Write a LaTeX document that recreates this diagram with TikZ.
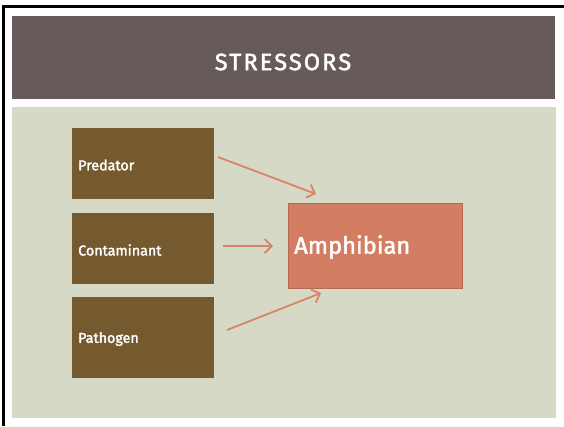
\documentclass[tikz,border=0pt]{standalone}
\usepackage{fontspec}
\setmainfont{Fira Sans}
\newfontfamily\labelfont[FakeBold=2]{Fira Sans}
\newfontfamily\titlefont[FakeBold=2,LetterSpace=9]{Fira Sans}
\usetikzlibrary{arrows.meta}
\definecolor{titlebg}{HTML}{675B59}
\definecolor{panelbg}{HTML}{D6D9C6}
\definecolor{stressor}{HTML}{745A2E}
\definecolor{target}{HTML}{D37E62}
\definecolor{targetedge}{HTML}{B86A50}
\definecolor{link}{HTML}{D88467}
\tikzset{
  stressorbox/.style={fill=stressor, draw=none, minimum width=142pt, minimum height=71pt,
    inner sep=0pt, anchor=north west},
  stressorlabel/.style={text=white, font=\labelfont\fontsize{14.3}{16}\selectfont, anchor=west, inner sep=0pt},
  targetbox/.style={fill=target, draw=targetedge, line width=0.8pt, minimum width=174pt,
    minimum height=85pt, inner sep=0pt, anchor=north west},
  flow/.style={draw=link, line width=1.8pt, -{Straight Barb[length=7pt,width=14pt,line width=1.8pt]}}
}
\begin{document}
\begin{tikzpicture}[x=1pt,y=-1pt]
  \useasboundingbox (0,0) rectangle (564,426);
  \fill[white] (0,0) rectangle (564,426);
  % frame
  \draw[black, line width=3pt] (3,426) -- (3,6.5) -- (564,6.5);
  % title band
  \fill[titlebg] (12,16) rectangle (555,99);
  \node[text=white, font=\titlefont\fontsize{23.5}{26}\selectfont, inner sep=0pt] (title) at (283,62) {STRESSORS};
  % content panel
  \fill[panelbg] (12,107) rectangle (556,418);
  % stressors
  \node[stressorbox] (pred) at (72,128) {};
  \node[stressorbox] (cont) at (72,213) {};
  \node[stressorbox, minimum height=81pt] (path) at (72,297) {};
  \node[stressorlabel] (predl) at (78,165) {Predator};
  \node[stressorlabel] (contl) at (78,250) {Contaminant};
  \node[stressorlabel] (pathl) at (78,339) {Pathogen};
  % target
  \node[targetbox] (amph) at (288,203) {};
  \node[text=white, font=\labelfont\fontsize{23.7}{27}\selectfont, anchor=west, inner sep=0pt] (amphl) at (294,247) {Amphibian};
  % arrows
  \coordinate (p1) at (218,157);
  \coordinate (p2) at (223,246);
  \coordinate (p3) at (227,330);
  \coordinate (t1) at (316,194);
  \coordinate (t2) at (273,246);
  \coordinate (t3) at (321,293);
  \draw[flow] (p1) -- (t1);
  \draw[flow] (p2) -- (t2);
  \draw[flow] (p3) -- (t3);
\end{tikzpicture}
\end{document}
